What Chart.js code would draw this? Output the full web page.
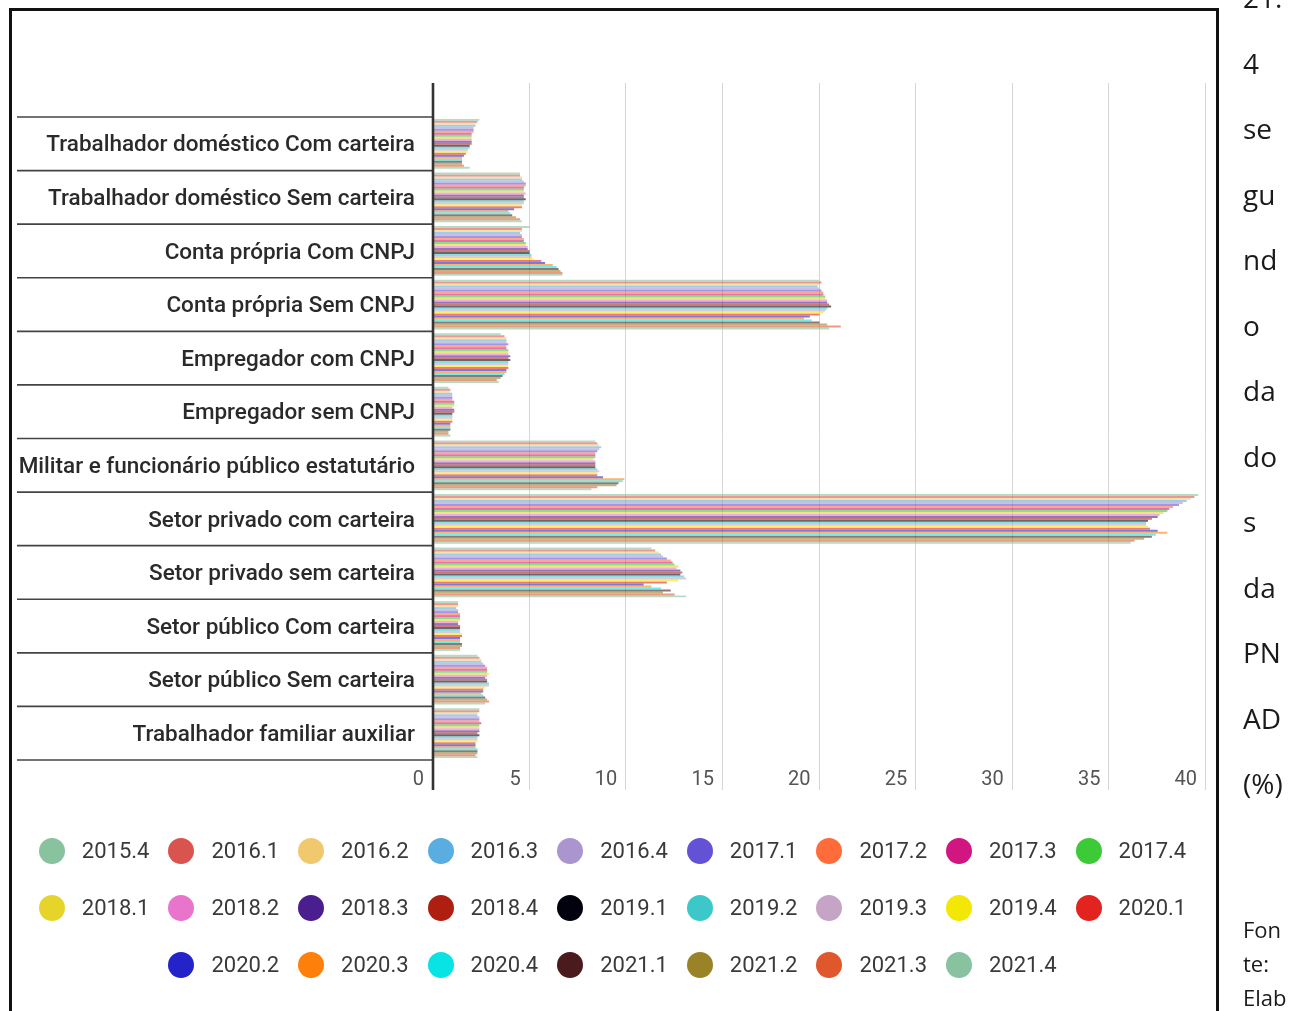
<!DOCTYPE html>
<html lang="pt-BR">
<head>
<meta charset="utf-8">
<title>Ocupados por posição na ocupação</title>
<script src="https://cdn.jsdelivr.net/npm/chart.js@4.4.1/dist/chart.umd.min.js"></script>
<style>
  html, body { margin: 0; padding: 0; background: #fff; width: 1306px; height: 1011px; overflow: hidden; }
  #wrap { position: absolute; left: 0; top: 0; width: 1306px; height: 1011px; }
  #frame { position: absolute; left: 9px; top: 8px; width: 1204px; height: 1100px; border: 3px solid #111; pointer-events: none; }
  #legend { position: absolute; left: 0; top: 822px; width: 1244px; font-family: Roboto, sans-serif; font-size: 22px; color: #3a3a3a; }
  .lrow { display: flex; justify-content: center; height: 57px; align-items: center; }
  .litem { width: 129.6px; display: flex; align-items: center; flex: none; }
  .ldot { width: 26px; height: 26px; border-radius: 50%; flex: none; }
  .ltxt { margin-left: 17px; white-space: nowrap; }
  .side { position: absolute; left: 1243px; font-family: "Open Sans", sans-serif; color: #1a1a1a; white-space: nowrap; }
  #title { top: -34.75px; font-size: 28px; line-height: 65.5px; }
  #source { top: 912px; font-size: 22px; line-height: 34px; }
</style>
</head>
<body>
<div id="wrap"><canvas id="chart" width="1306" height="1011"></canvas></div>
<div id="frame"></div>
<div id="legend"></div>
<div class="side" id="title">21.<br>4<br>se<br>gu<br>nd<br>o<br>da<br>do<br>s<br>da<br>PN<br>AD<br>(%)</div>
<div class="side" id="source">Fon<br>te:<br>Elab</div>
<script>
// Categorias (posição na ocupação)
const categories = [
  'Trabalhador doméstico Com carteira',
  'Trabalhador doméstico Sem carteira',
  'Conta própria Com CNPJ',
  'Conta própria Sem CNPJ',
  'Empregador com CNPJ',
  'Empregador sem CNPJ',
  'Militar e funcionário público estatutário',
  'Setor privado com carteira',
  'Setor privado sem carteira',
  'Setor público Com carteira',
  'Setor público Sem carteira',
  'Trabalhador familiar auxiliar'
];

// Trimestres (séries)
const periods = ['2015.4','2016.1','2016.2','2016.3','2016.4','2017.1','2017.2','2017.3','2017.4',
  '2018.1','2018.2','2018.3','2018.4','2019.1','2019.2','2019.3','2019.4','2020.1',
  '2020.2','2020.3','2020.4','2021.1','2021.2','2021.3','2021.4'];

const periodColors = ['#88c29f','#d9534f','#f0c96e','#5aade0','#ab95cf','#6452d6','#ff6c3a','#d11682','#3ccb36',
  '#e6d42a','#e874cb','#4a1e8e','#ae1f12','#02020f','#3cc8c8','#c6a4c6','#f3e805','#e2231f',
  '#2323c9','#ff7f0b','#08e3e3','#4b1a1c','#9a8226','#e0572b','#88c29f'];

// Participação (%) de cada posição, trimestre a trimestre (2015.4 → 2021.4)
const domesticoCom   = [2.4,2.3,2.2,2.2,2.1,2.1,2.1,2.0,2.0,2.0,2.0,2.0,2.0,1.9,1.9,1.8,1.8,1.7,1.6,1.5,1.5,1.5,1.5,1.6,1.9];
const domesticoSem   = [4.5,4.5,4.6,4.6,4.7,4.8,4.8,4.7,4.7,4.7,4.8,4.7,4.7,4.8,4.7,4.7,4.6,4.6,4.2,3.9,4.0,4.1,4.3,4.5,4.6];
const contaPropriaCom = [5.0,4.6,4.6,4.5,4.6,4.6,4.7,4.7,4.8,4.8,4.9,4.9,5.0,5.0,5.1,5.1,5.2,5.6,5.8,6.2,6.4,6.5,6.6,6.7,6.7];
const contaPropriaSem = [20.0,20.1,20.0,19.9,20.0,20.1,20.2,20.2,20.3,20.3,20.4,20.4,20.5,20.6,20.4,20.3,20.2,20.0,19.5,19.2,19.6,20.0,20.4,21.1,20.5];
const empregadorCom  = [3.5,3.7,3.8,3.8,3.8,3.9,3.8,3.8,3.9,3.9,3.9,4.0,3.9,4.0,3.9,3.9,3.9,3.9,3.8,3.8,3.7,3.6,3.5,3.3,3.4];
const empregadorSem  = [0.8,0.9,0.9,1.0,1.0,1.0,1.0,1.1,1.1,1.1,1.0,1.1,1.1,1.0,1.0,1.0,1.0,1.0,0.9,0.9,0.9,0.9,0.8,0.8,0.9];
const militarEstat   = [8.4,8.5,8.6,8.7,8.6,8.5,8.4,8.4,8.4,8.3,8.4,8.4,8.4,8.4,8.5,8.6,8.5,8.5,8.8,9.9,9.8,9.6,9.5,8.5,8.2];
const privadoCom     = [39.6,39.4,39.2,39.0,38.8,38.6,38.3,38.1,38.0,37.8,37.6,37.5,37.2,37.0,36.9,36.9,37.0,37.1,37.5,38.0,37.4,37.2,36.8,36.3,36.1];
const privadoSem     = [11.3,11.5,11.7,11.8,11.9,12.1,12.3,12.4,12.5,12.7,12.6,12.8,12.9,12.8,13.0,13.1,12.7,12.1,10.9,11.3,11.8,12.3,11.9,12.5,13.1];
const publicoCom     = [1.3,1.3,1.3,1.2,1.3,1.3,1.4,1.4,1.4,1.4,1.3,1.3,1.4,1.4,1.4,1.4,1.5,1.5,1.4,1.4,1.4,1.5,1.5,1.4,1.4];
const publicoSem     = [2.3,2.4,2.5,2.5,2.6,2.7,2.8,2.8,2.8,2.9,2.8,2.7,2.8,2.8,2.9,2.9,2.7,2.6,2.6,2.5,2.6,2.7,2.8,2.9,2.7];
const familiarAux    = [2.4,2.4,2.3,2.3,2.4,2.4,2.4,2.5,2.4,2.4,2.4,2.4,2.3,2.4,2.3,2.3,2.3,2.2,2.2,2.2,2.3,2.3,2.3,2.2,2.3];

// Eixo de valores
const xTicksMin = 0, xTicksMax = 40, xTicksStep = 5;

const byCategory = [domesticoCom, domesticoSem, contaPropriaCom, contaPropriaSem, empregadorCom, empregadorSem,
  militarEstat, privadoCom, privadoSem, publicoCom, publicoSem, familiarAux];

function withAlpha(hex, a) {
  const n = parseInt(hex.slice(1), 16);
  return `rgba(${(n >> 16) & 255},${(n >> 8) & 255},${n & 255},${a})`;
}

const datasets = periods.map((p, i) => ({
  label: p,
  data: byCategory.map(arr => arr[i]),
  backgroundColor: withAlpha(periodColors[i], 0.6),
  borderWidth: 0,
  categoryPercentage: 0.93,
  barPercentage: 1.0
}));

// Linhas de grade, eixo zero e separadores de categoria
const frameLines = {
  id: 'frameLines',
  beforeDatasetsDraw(chart) {
    const { ctx, scales: { x }, chartArea } = chart;
    ctx.save();
    ctx.strokeStyle = '#d6d6d6';
    ctx.lineWidth = 1;
    x.ticks.forEach(t => {
      if (t.value === 0) return;
      const px = Math.round(x.getPixelForValue(t.value)) - 0.5;
      ctx.beginPath();
      ctx.moveTo(px, chartArea.top - 34);
      ctx.lineTo(px, chartArea.bottom + 30);
      ctx.stroke();
    });
    ctx.restore();
  },
  afterDatasetsDraw(chart) {
    const { ctx, scales: { x, y }, chartArea } = chart;
    const x0 = x.getPixelForValue(0);
    const half = (y.getPixelForTick(1) - y.getPixelForTick(0)) / 2;
    ctx.save();
    ctx.strokeStyle = '#444';
    ctx.lineWidth = 1.6;
    for (let i = 0; i <= y.ticks.length; i++) {
      const py = i < y.ticks.length ? y.getPixelForTick(i) - half : y.getPixelForTick(i - 1) + half;
      ctx.beginPath();
      ctx.moveTo(y.left, py);
      ctx.lineTo(x0, py);
      ctx.stroke();
    }
    ctx.strokeStyle = '#333';
    ctx.lineWidth = 2.6;
    ctx.beginPath();
    ctx.moveTo(x0, chartArea.top - 34);
    ctx.lineTo(x0, chartArea.bottom + 30);
    ctx.stroke();
    ctx.restore();
  }
};

new Chart(document.getElementById('chart'), {
  type: 'bar',
  data: { labels: categories, datasets },
  plugins: [frameLines],
  options: {
    indexAxis: 'y',
    responsive: false,
    animation: false,
    layout: { padding: { left: 17, right: 100, top: 117, bottom: 201 } },
    plugins: { legend: { display: false }, tooltip: { enabled: false } },
    scales: {
      x: {
        min: xTicksMin, max: xTicksMax,
        grid: { display: false, drawTicks: false },
        border: { display: false },
        afterFit: s => { s.height = 50; },
        ticks: {
          stepSize: xTicksStep,
          align: 'end',
          labelOffset: -9,
          padding: 8,
          color: '#555',
          font: { family: 'Roboto', size: 20 }
        }
      },
      y: {
        grid: { display: false, drawTicks: false },
        border: { display: false },
        afterFit: s => { s.width = 416; },
        ticks: {
          padding: 18,
          labelOffset: 2,
          color: '#2a2a2a',
          font: { family: 'Roboto', size: 22.5, weight: '500' }
        }
      }
    }
  }
});

// Legenda
const legend = document.getElementById('legend');
const rows = [periods.slice(0, 9), periods.slice(9, 18), periods.slice(18)];
let k = 0;
rows.forEach(r => {
  const row = document.createElement('div');
  row.className = 'lrow';
  r.forEach(p => {
    const item = document.createElement('div');
    item.className = 'litem';
    const dot = document.createElement('span');
    dot.className = 'ldot';
    dot.style.background = periodColors[k++];
    const txt = document.createElement('span');
    txt.className = 'ltxt';
    txt.textContent = p;
    item.appendChild(dot);
    item.appendChild(txt);
    row.appendChild(item);
  });
  legend.appendChild(row);
});
</script>
</body>
</html>
